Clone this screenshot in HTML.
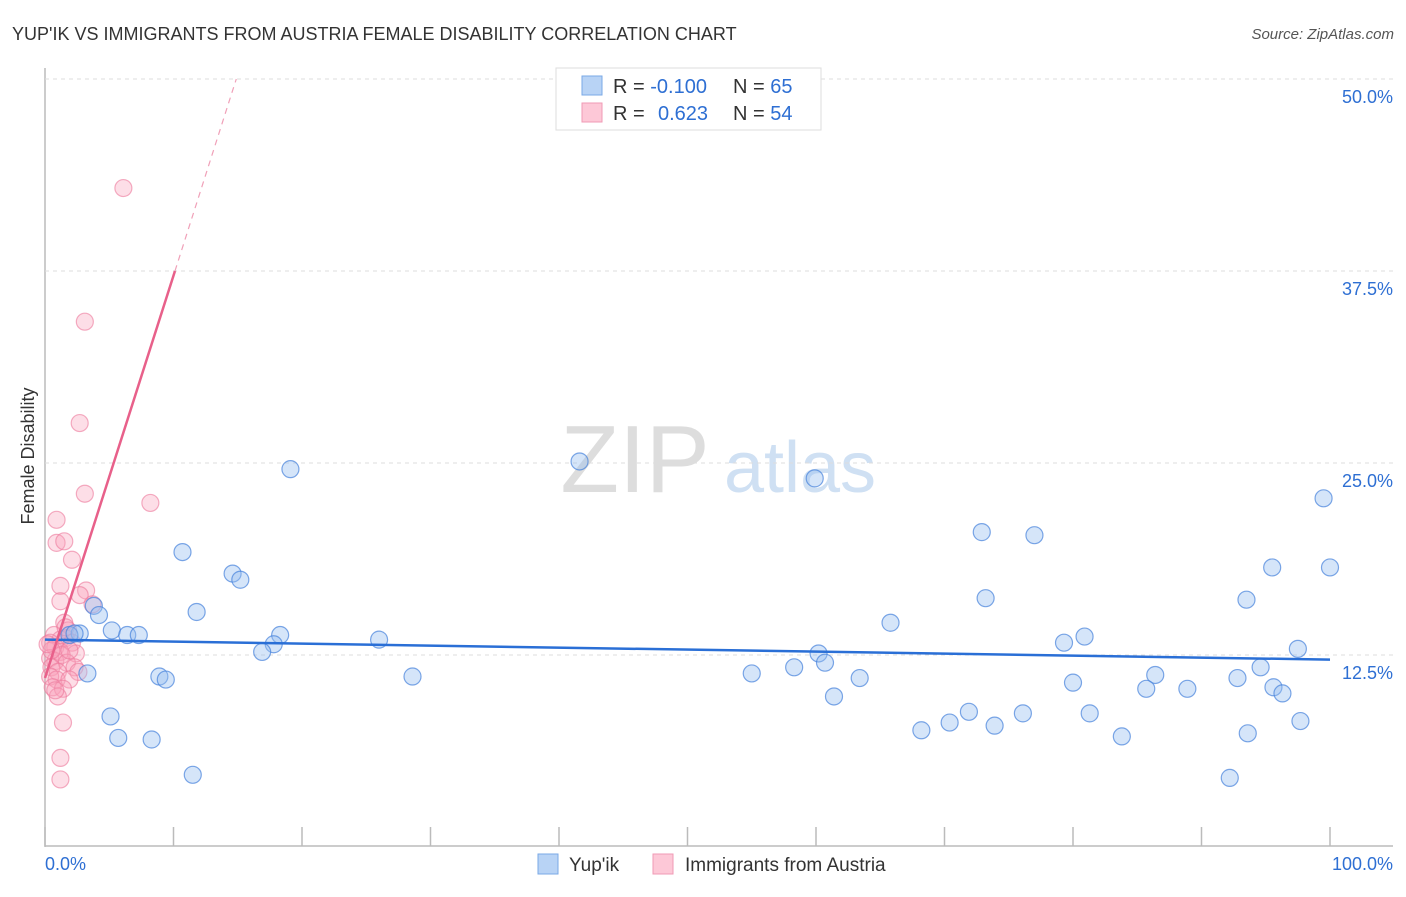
<!DOCTYPE html>
<html><head><meta charset="utf-8"><style>
body{margin:0;background:#fff;font-family:"Liberation Sans",sans-serif;}
svg text{font-family:"Liberation Sans",sans-serif;}
</style></head><body>
<svg id="c" width="1406" height="892" xmlns="http://www.w3.org/2000/svg">
<text x="12" y="40" font-size="18" fill="#333">YUP'IK VS IMMIGRANTS FROM AUSTRIA FEMALE DISABILITY CORRELATION CHART</text>
<text x="1394" y="39" font-size="15" fill="#555" font-style="italic" text-anchor="end">Source: ZipAtlas.com</text>
<text x="34" y="456" font-size="18" fill="#333" text-anchor="middle" transform="rotate(-90 34 456)">Female Disability</text>
<g><text x="635" y="492" font-size="96" fill="#ddd" font-family="Liberation Serif" text-anchor="middle">ZIP</text><text x="800" y="492" font-size="72" fill="#cfe0f3" text-anchor="middle">atlas</text></g>
<g id="grid"></g><g id="marks"></g>
<g>
<rect x="556" y="68" width="265" height="62" fill="#fff" stroke="#ddd"/>
<rect x="582" y="76" width="20" height="19" fill="#b8d3f5" stroke="#7aa8e6"/>
<rect x="582" y="103" width="20" height="19" fill="#fdc8d7" stroke="#f09ab4"/>
<text x="613" y="93" font-size="20" fill="#333">R = <tspan fill="#2e6fd3">-0.100</tspan></text>
<text x="733" y="93" font-size="20" fill="#333">N = <tspan fill="#2e6fd3">65</tspan></text>
<text x="613" y="120" font-size="20" fill="#333">R = <tspan fill="#2e6fd3" x="658">0.623</tspan></text>
<text x="733" y="120" font-size="20" fill="#333">N = <tspan fill="#2e6fd3">54</tspan></text>
</g>
<g>
<rect x="538" y="854" width="20" height="20" fill="#b8d3f5" stroke="#7aa8e6"/>
<text x="569" y="871" font-size="19" fill="#333">Yup'ik</text>
<rect x="653" y="854" width="20" height="20" fill="#fdc8d7" stroke="#f09ab4"/>
<text x="685" y="871" font-size="19" fill="#333">Immigrants from Austria</text>
</g>
<text x="45" y="870" font-size="18" fill="#2e6fd3">0.0%</text>
<text x="1393" y="870" font-size="18" fill="#2e6fd3" text-anchor="end">100.0%</text>
</svg>
<script>
const yTicks=[50,37.5,25,12.5];
const yTickLabels=["50.0%","37.5%","25.0%","12.5%"];
const xTicks=[0,10,20,30,40,50,60,70,80,90,100];
const blueX=[19.1,41.6,59.9,99.5,10.7,72.9,77.0,14.6,15.2,95.5,100,73.2,93.5,3.8,4.2,11.8,65.8,5.2,6.4,7.3,2.7,1.9,18.3,26.0,17.8,16.9,79.3,80.9,97.5,60.2,60.7,58.3,94.6,3.3,8.9,9.4,28.6,55.0,63.4,86.4,80.0,92.8,85.7,88.9,95.6,96.3,61.4,71.9,76.1,81.3,70.4,73.9,68.2,97.7,5.1,5.7,8.3,83.8,93.6,11.5,92.2,2.3];
const blueY=[24.6,25.1,24.0,22.7,19.2,20.5,20.3,17.8,17.4,18.2,18.2,16.2,16.1,15.7,15.1,15.3,14.6,14.1,13.8,13.8,13.9,13.8,13.8,13.5,13.2,12.7,13.3,13.7,12.9,12.6,12.0,11.7,11.7,11.3,11.1,10.9,11.1,11.3,11.0,11.2,10.7,11.0,10.3,10.3,10.4,10.0,9.8,8.8,8.7,8.7,8.1,7.9,7.6,8.2,8.5,7.1,7.0,7.2,7.4,4.7,4.5,13.9];
const pinkX=[6.1,3.1,2.7,3.1,8.2,0.9,0.9,1.5,2.1,1.2,3.2,2.7,1.2,3.7,1.5,1.8,0.7,1.2,1.6,2.1,0.4,0.8,1.2,2.4,0.4,0.8,1.3,1.7,0.5,1.0,2.3,2.6,0.4,0.9,1.9,0.6,1.4,1.0,1.4,1.2,1.2,0.8,0.5,0.2,1.6,1.9];
const pinkY=[42.9,34.2,27.6,23.0,22.4,21.3,19.8,19.9,18.7,17.0,16.7,16.4,16.0,15.8,14.6,14.1,13.8,13.5,13.6,13.3,13.3,13.0,12.7,12.6,12.3,12.1,12.5,12.0,11.7,11.4,11.7,11.4,11.1,10.9,10.9,10.4,10.3,9.8,8.1,5.8,4.4,10.2,12.8,13.2,14.3,12.8];
const blueTrend=[13.5,12.2];
const pinkTrend={intercept:11.0,slope:2.62};
const X=v=>45+v*12.85, Y=v=>847-v*15.36;
const NS="http://www.w3.org/2000/svg";
const g=document.getElementById('grid'), m=document.getElementById('marks');
function mk(t,a,p){const e=document.createElementNS(NS,t);for(const k in a)e.setAttribute(k,a[k]);p.appendChild(e);return e;}
let ax=mk('line',{x1:45,y1:68,x2:45,y2:847,stroke:'#bbb','stroke-width':1.5},g);


let bx=mk('line',{x1:45,y1:846,x2:1393,y2:846,stroke:'#bbb','stroke-width':1.5},g);


yTicks.forEach((t,i)=>{
 let l=mk('line',{x1:45,x2:1393,y1:Y(t),y2:Y(t),stroke:'#ddd','stroke-dasharray':'4 4'},g);
 
 
 let tx=mk('text',{x:1393,y:Y(t)+24,'font-size':18,fill:'#2e6fd3','text-anchor':'end'},g);
 tx.textContent=yTickLabels[i];
 
 
});
xTicks.forEach(t=>{
 let l=mk('line',{x1:X(t),x2:X(t),y1:827,y2:846,stroke:'#bbb','stroke-width':1.5},g);
 
 
});
pinkX.forEach((v,i)=>{
 let c=mk('circle',{cx:X(v),cy:Y(pinkY[i]),r:8.5,fill:'rgba(248,160,186,0.35)',stroke:'rgba(236,120,155,0.6)','stroke-width':1.2},m);
 
 
});
blueX.forEach((v,i)=>{
 let c=mk('circle',{cx:X(v),cy:Y(blueY[i]),r:8.5,fill:'rgba(150,190,240,0.4)',stroke:'rgba(70,130,220,0.7)','stroke-width':1.2},m);
 
 
});
let bt=mk('line',{x1:X(0),y1:Y(blueTrend[0]),x2:X(100),y2:Y(blueTrend[1]),stroke:'#2a6fd6','stroke-width':2.5},m);


const xs=(37.5-pinkTrend.intercept)/pinkTrend.slope, xe=(50-pinkTrend.intercept)/pinkTrend.slope;
let pt=mk('line',{x1:X(0),y1:Y(pinkTrend.intercept),x2:X(xs),y2:Y(37.5),stroke:'#e8608a','stroke-width':2.5},m);


let pd=mk('line',{x1:X(xs),y1:Y(37.5),x2:X(xe),y2:Y(50),stroke:'#f0a0b8','stroke-width':1.2,'stroke-dasharray':'6 5'},m);


</script>
</body></html>
